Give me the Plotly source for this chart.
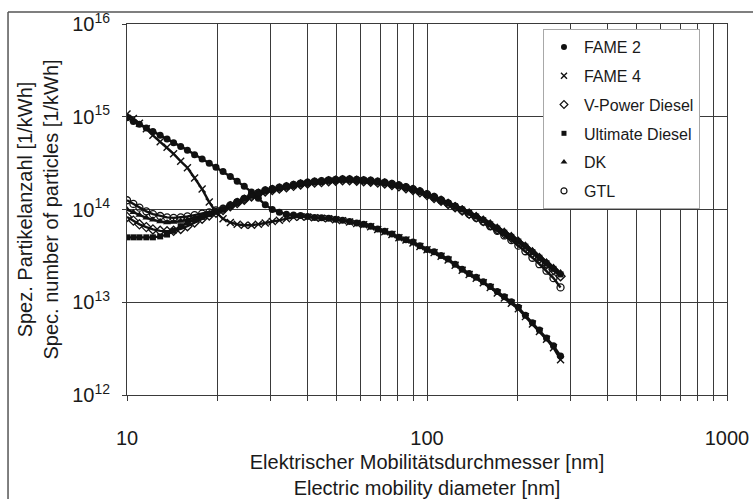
import plotly.graph_objects as go

# Electric mobility diameter [nm]
diameter_nm = [10, 10.5, 11, 11.6, 12.2, 12.9, 13.6, 14.3, 15.1, 15.9, 16.8, 17.8, 18.8, 19.8,
               20.9, 22.1, 23.3, 24.6, 26, 27.4, 28.9, 30.5, 32.2, 34, 35.9, 37.9, 40, 42.2,
               44.5, 47, 49.6, 52.3, 55.2, 58.3, 61.5, 64.9, 68.5, 72.3, 76.4, 80.6, 85.1, 89.8,
               94.7, 100, 105.6, 111.4, 117.6, 124.1, 131, 138.2, 145.9, 154, 162.5, 171.5, 181,
               191, 201.6, 212.8, 224.6, 237, 250.2, 264, 278.7]

# Specific particle number, stored as log10 of [1/kWh]
fame2_log = [14.99, 14.95, 14.92, 14.88, 14.84, 14.80, 14.76, 14.72, 14.68, 14.64, 14.59, 14.545,
             14.50, 14.455, 14.41, 14.355, 14.305, 14.25, 14.19, 14.12, 14.05, 14.00, 13.97, 13.95,
             13.94, 13.935, 13.925, 13.915, 13.91, 13.905, 13.895, 13.885, 13.87, 13.855, 13.84,
             13.82, 13.79, 13.765, 13.735, 13.70, 13.675, 13.65, 13.61, 13.57, 13.545, 13.505,
             13.465, 13.41, 13.355, 13.31, 13.27, 13.22, 13.17, 13.115, 13.06, 13.005, 12.945,
             12.86, 12.78, 12.70, 12.615, 12.53, 12.42]
fame4_log = [15.03, 14.98, 14.93, 14.87, 14.80, 14.73, 14.67, 14.60, 14.52, 14.45, 14.34, 14.22,
             14.08, 13.97, 13.90, 13.86, 13.84, 13.83, 13.83, 13.84, 13.855, 13.87, 13.885, 13.90,
             13.915, 13.92, 13.92, 13.91, 13.905, 13.90, 13.89, 13.88, 13.865, 13.85, 13.835,
             13.815, 13.785, 13.76, 13.73, 13.695, 13.67, 13.64, 13.60, 13.565, 13.535, 13.495,
             13.455, 13.40, 13.345, 13.30, 13.26, 13.21, 13.16, 13.10, 13.045, 12.99, 12.93,
             12.845, 12.765, 12.685, 12.60, 12.51, 12.38]
vpower_log = [13.92, 13.88, 13.84, 13.81, 13.785, 13.77, 13.765, 13.77, 13.79, 13.82, 13.86, 13.90,
              13.935, 13.965, 13.995, 14.035, 14.07, 14.105, 14.14, 14.17, 14.195, 14.21, 14.225,
              14.24, 14.255, 14.27, 14.28, 14.29, 14.295, 14.305, 14.31, 14.315, 14.315, 14.31,
              14.305, 14.30, 14.29, 14.28, 14.265, 14.25, 14.23, 14.21, 14.185, 14.155, 14.125,
              14.095, 14.06, 14.025, 13.99, 13.955, 13.915, 13.875, 13.83, 13.785, 13.74, 13.695,
              13.645, 13.59, 13.53, 13.47, 13.41, 13.35, 13.28]
ultimate_log = [13.70, 13.70, 13.70, 13.70, 13.70, 13.71, 13.73, 13.77, 13.82, 13.86, 13.89, 13.92,
                13.95, 13.975, 14.00, 14.04, 14.08, 14.115, 14.15, 14.175, 14.20, 14.215, 14.23,
                14.245, 14.26, 14.275, 14.285, 14.295, 14.30, 14.31, 14.315, 14.32, 14.32, 14.315,
                14.31, 14.305, 14.295, 14.285, 14.27, 14.255, 14.235, 14.215, 14.19, 14.16, 14.13,
                14.10, 14.07, 14.035, 14.00, 13.965, 13.925, 13.885, 13.84, 13.795, 13.75, 13.705,
                13.655, 13.60, 13.54, 13.48, 13.42, 13.36, 13.30]
dk_log = [14.00, 13.97, 13.94, 13.91, 13.89, 13.87, 13.86, 13.865, 13.875, 13.89, 13.91, 13.93,
          13.955, 13.98, 14.005, 14.04, 14.075, 14.11, 14.145, 14.175, 14.20, 14.22, 14.235, 14.25,
          14.265, 14.28, 14.29, 14.30, 14.31, 14.315, 14.32, 14.325, 14.325, 14.32, 14.315, 14.31,
          14.30, 14.29, 14.28, 14.265, 14.245, 14.225, 14.20, 14.17, 14.14, 14.11, 14.08, 14.045,
          14.01, 13.975, 13.94, 13.90, 13.86, 13.815, 13.77, 13.725, 13.675, 13.62, 13.56, 13.50,
          13.44, 13.38, 13.32]
gtl_log = [14.10, 14.06, 14.02, 13.98, 13.95, 13.93, 13.915, 13.91, 13.915, 13.925, 13.94, 13.955,
           13.97, 13.99, 14.01, 14.045, 14.08, 14.115, 14.15, 14.18, 14.205, 14.22, 14.235, 14.25,
           14.265, 14.28, 14.29, 14.30, 14.305, 14.315, 14.32, 14.325, 14.325, 14.32, 14.315, 14.31,
           14.30, 14.29, 14.275, 14.26, 14.24, 14.22, 14.195, 14.165, 14.135, 14.10, 14.065, 14.03,
           13.99, 13.95, 13.91, 13.87, 13.82, 13.77, 13.72, 13.67, 13.61, 13.55, 13.48, 13.41,
           13.34, 13.26, 13.16]

series_names = ["FAME 2", "FAME 4", "V-Power Diesel", "Ultimate Diesel", "DK", "GTL"]
series_logs = [fame2_log, fame4_log, vpower_log, ultimate_log, dk_log, gtl_log]
x_tick_vals = [10, 100, 1000]
x_tick_text = ["10", "100", "1000"]
x_minor_vals = [20, 30, 40, 50, 60, 70, 80, 90, 200, 300, 400, 500, 600, 700, 800, 900]
y_tick_vals = [1e12, 1e13, 1e14, 1e15, 1e16]
y_tick_text = ["10<sup>12</sup>", "10<sup>13</sup>", "10<sup>14</sup>", "10<sup>15</sup>", "10<sup>16</sup>"]

ink = "#111"
symbols = {
    "FAME 2": dict(symbol="circle", size=7),
    "FAME 4": dict(symbol="x-thin", size=7, line=dict(width=1.4, color=ink)),
    "V-Power Diesel": dict(symbol="diamond-open", size=7, line=dict(width=1.3, color=ink)),
    "Ultimate Diesel": dict(symbol="square", size=6),
    "DK": dict(symbol="triangle-up", size=7),
    "GTL": dict(symbol="circle-open", size=7, line=dict(width=1.3, color=ink)),
}
legend_symbols = {
    "FAME 2": dict(symbol="circle", size=6),
    "FAME 4": dict(symbol="x-thin", size=6, line=dict(width=1.4, color=ink)),
    "V-Power Diesel": dict(symbol="diamond-open", size=6, line=dict(width=1.2, color=ink)),
    "Ultimate Diesel": dict(symbol="square", size=5),
    "DK": dict(symbol="triangle-up", size=6),
    "GTL": dict(symbol="circle-open", size=6, line=dict(width=1.2, color=ink)),
}

fig = go.Figure()
line_order = ["GTL", "DK", "V-Power Diesel", "Ultimate Diesel", "FAME 4", "FAME 2"]
for name in line_order:
    ys = [10 ** v for v in series_logs[series_names.index(name)]]
    fig.add_trace(go.Scatter(x=diameter_nm, y=ys, mode="lines", showlegend=False,
                             line=dict(color=ink, width=2.4), hoverinfo="skip"))
for i, name in enumerate(series_names):
    ys = [10 ** v for v in series_logs[i]]
    mk = dict(color=ink)
    mk.update(symbols[name])
    fig.add_trace(go.Scatter(x=diameter_nm, y=ys, mode="markers", name=name,
                             legendgroup=name, marker=mk, showlegend=False))
    # legend entry (marker only)
    lmk = dict(color=ink)
    lmk.update(legend_symbols[name])
    fig.add_trace(go.Scatter(x=[None], y=[None], mode="markers", name=name,
                             legendgroup=name, marker=lmk, showlegend=True))

grid_col = "#3a3a3a"
fig.update_layout(
    width=753, height=499,
    margin=dict(l=127, r=26, t=24, b=104, autoexpand=False),
    paper_bgcolor="white", plot_bgcolor="white",
    font=dict(family="Liberation Sans, Arial, sans-serif", color="#1a1a1a", size=20),
    legend=dict(x=0.6933, y=0.9865, xanchor="left", yanchor="top", bgcolor="white",
                bordercolor="#a8a8a8", borderwidth=1, font=dict(size=16),
                tracegroupgap=5, traceorder="grouped"),
    xaxis=dict(type="log", range=[1, 3], tickmode="array", tickvals=x_tick_vals,
               ticktext=x_tick_text, showgrid=True, gridcolor=grid_col, gridwidth=1,
               ticks="outside", ticklen=5, tickcolor=grid_col, showline=True,
               linecolor=grid_col, linewidth=1, mirror=True, zeroline=False,
               ticklabelstandoff=20, automargin=False,
               minor=dict(tickmode="array", tickvals=x_minor_vals, showgrid=True,
                          gridcolor=grid_col, gridwidth=1, ticks="outside", ticklen=5,
                          tickcolor=grid_col),
               title=dict(text="Elektrischer Mobilitätsdurchmesser [nm]<br>Electric mobility diameter [nm]",
                          standoff=8, font=dict(size=20))),
    yaxis=dict(type="log", range=[12, 16], tickmode="array", tickvals=y_tick_vals,
               ticktext=y_tick_text, showgrid=True, gridcolor=grid_col, gridwidth=1,
               ticks="outside", ticklen=4, tickcolor=grid_col, showline=True,
               linecolor=grid_col, linewidth=1, mirror=True, zeroline=False,
               ticklabelstandoff=8, automargin=False,
               title=dict(text="Spez. Partikelanzahl [1/kWh]<br>Spec. number of particles [1/kWh]",
                          standoff=8, font=dict(size=20))),
    shapes=[
        dict(type="line", xref="paper", yref="paper", x0=-0.1983, x1=1.06, y0=1.0323, y1=1.0323,
             line=dict(color="#555", width=1.5)),
        dict(type="line", xref="paper", yref="paper", x0=-0.1983, x1=-0.1983, y0=1.0323, y1=-0.32,
             line=dict(color="#555", width=1.5)),
    ],
)

fig.write_html("out.html", config={"displayModeBar": False},
               post_script="document.body.style.margin='0';document.body.style.padding='0';")
